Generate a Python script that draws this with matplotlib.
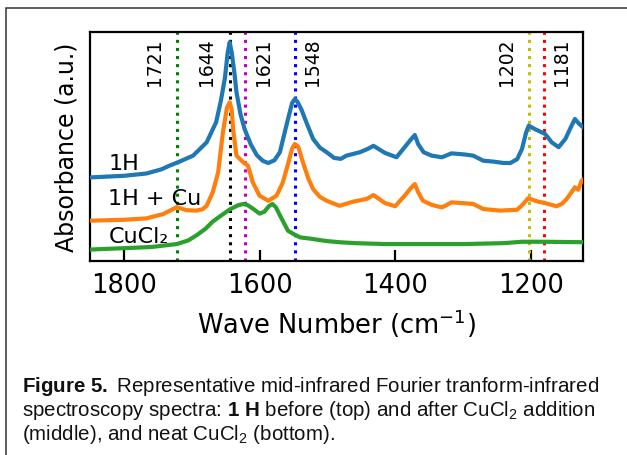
import matplotlib
matplotlib.use("Agg")
import matplotlib.pyplot as plt
from matplotlib.patches import Rectangle

# ---- spectra (wavenumber in cm^-1, absorbance in a.u., offset for display) ----
wn_1h = [1850, 1800, 1767, 1745, 1733, 1718, 1698, 1678, 1664, 1657, 1651, 1647,
         1644, 1641, 1637, 1634, 1628, 1622, 1613, 1604, 1595, 1587, 1578, 1570,
         1563, 1558, 1552, 1548, 1544, 1538, 1531, 1521, 1511, 1501, 1490, 1480,
         1472, 1452, 1440, 1432, 1415, 1398, 1386, 1377, 1371, 1366, 1358, 1346,
         1331, 1317, 1297, 1285, 1270, 1255, 1240, 1230, 1220, 1213, 1207, 1203,
         1194, 1179, 1169, 1159, 1149, 1140, 1135, 1129, 1123]
ab_1h = [0.365, 0.372, 0.382, 0.400, 0.416, 0.434, 0.460, 0.518, 0.606, 0.700,
         0.800, 0.910, 0.955, 0.910, 0.820, 0.737, 0.640, 0.576, 0.510, 0.462,
         0.437, 0.428, 0.440, 0.475, 0.560, 0.620, 0.690, 0.707, 0.695, 0.660,
         0.606, 0.533, 0.495, 0.475, 0.450, 0.446, 0.460, 0.475, 0.490, 0.503,
         0.472, 0.453, 0.497, 0.530, 0.550, 0.510, 0.475, 0.460, 0.453, 0.470,
         0.465, 0.460, 0.438, 0.434, 0.428, 0.428, 0.445, 0.489, 0.560, 0.591,
         0.576, 0.555, 0.518, 0.497, 0.533, 0.590, 0.620, 0.600, 0.584]

wn_1h_cu = [1850, 1800, 1767, 1742, 1722, 1708, 1693, 1684, 1678, 1669, 1661,
            1654, 1648, 1644, 1641, 1639, 1634, 1624, 1617, 1610, 1600, 1587,
            1575, 1566, 1560, 1552, 1548, 1543, 1536, 1528, 1521, 1511, 1501,
            1490, 1482, 1462, 1442, 1432, 1415, 1400, 1386, 1377, 1371, 1366,
            1359, 1346, 1331, 1317, 1297, 1285, 1270, 1245, 1220, 1211, 1204,
            1189, 1179, 1162, 1154, 1147, 1140, 1135, 1130, 1125, 1123]
ab_1h_cu = [0.176, 0.180, 0.186, 0.205, 0.235, 0.222, 0.220, 0.226, 0.241, 0.300,
            0.387, 0.562, 0.670, 0.693, 0.660, 0.576, 0.460, 0.431, 0.416, 0.344,
            0.285, 0.263, 0.285, 0.340, 0.402, 0.490, 0.511, 0.500, 0.431, 0.360,
            0.314, 0.280, 0.263, 0.250, 0.241, 0.259, 0.271, 0.288, 0.253, 0.239,
            0.285, 0.318, 0.336, 0.300, 0.263, 0.245, 0.234, 0.256, 0.252, 0.249,
            0.227, 0.220, 0.224, 0.249, 0.274, 0.259, 0.253, 0.239, 0.250, 0.271,
            0.300, 0.322, 0.311, 0.351, 0.355]

wn_cucl2 = [1850, 1800, 1760, 1722, 1705, 1693, 1680, 1669, 1656, 1644, 1632,
            1624, 1617, 1609, 1600, 1593, 1586, 1581, 1576, 1570, 1563, 1558,
            1550, 1540, 1526, 1501, 1482, 1459, 1415, 1297, 1240, 1213, 1180,
            1123]
ab_cucl2 = [0.050, 0.056, 0.061, 0.074, 0.090, 0.112, 0.140, 0.172, 0.200, 0.225,
            0.243, 0.249, 0.243, 0.227, 0.207, 0.215, 0.240, 0.249, 0.235, 0.200,
            0.160, 0.132, 0.118, 0.103, 0.098, 0.087, 0.082, 0.078, 0.074, 0.074,
            0.078, 0.084, 0.084, 0.082]

# ---- marked band positions ----
band_wn = [1721, 1644, 1621, 1548, 1202, 1181]
band_colors = ["g", "k", "m", "b", "y", "r"]
band_side = [-1, -1, 1, 1, -1, 1]   # label on left (-1) or right (+1) of line

series_names = ["1H", "1H + Cu", "CuCl\u2082"]
series_colors = ["#1f77b4", "#ff7f0e", "#2ca02c"]
name_y = [0.402, 0.249, 0.083]

xticks = [1800, 1600, 1400, 1200]

plt.rcParams["mathtext.fontset"] = "custom"
plt.rcParams["mathtext.rm"] = "Liberation Sans"
plt.rcParams["mathtext.it"] = "Liberation Sans:italic"
plt.rcParams["mathtext.bf"] = "Liberation Sans:bold"

W, H = 627, 456
fig = plt.figure(figsize=(W / 100, H / 100), dpi=100)
fig.patch.set_facecolor("white")

# outer frame (open to the right and bottom)
fig.patches.append(Rectangle((6 / W, -0.1), 1.2, (H - 8.5) / H + 0.1,
                             transform=fig.transFigure, fill=False,
                             edgecolor="#333333", linewidth=1.1))

ax = fig.add_axes([90 / W, 1 - 262 / H, (583 - 90) / W, (262 - 33) / H])

for wn, ab, c in zip([wn_1h, wn_1h_cu, wn_cucl2], [ab_1h, ab_1h_cu, ab_cucl2],
                     series_colors):
    ax.plot(wn, ab, color=c, linewidth=3.0, solid_joinstyle="round", zorder=3)

for wn, c, side in zip(band_wn, band_colors, band_side):
    ax.axvline(wn, color=c, linestyle=":", linewidth=2.2, zorder=2)
    ax.annotate(str(wn), xy=(wn, 0.975), xycoords=("data", "axes fraction"),
                xytext=(side * 18 - (5 if side < 0 else 0), 0),
                textcoords="offset pixels", rotation=90, ha="center", va="top",
                fontsize=13.5, color="black")

for name, y in zip(series_names, name_y):
    ax.text(1823, y, name, fontsize=16, ha="left", va="baseline", zorder=4)

ax.set_xlim(1850, 1123)
ax.set_ylim(0, 1)
ax.set_xticks(xticks)
ax.set_yticks([])
ax.tick_params(axis="x", direction="in", length=8, width=1.6, labelsize=18.5, pad=8)
for s in ax.spines.values():
    s.set_linewidth(1.6)

ax.set_xlabel("Wave Number (cm$^{-1}$)", fontsize=18.5, labelpad=6,
              math_fontfamily="dejavusans")
ax.set_ylabel("Absorbance (a.u.)", fontsize=17)
ax.yaxis.set_label_coords(-0.023, 0.5)

cap_kw = dict(fontsize=14.8, family="Liberation Sans", ha="left", va="baseline",
              color="#111111")
fig.text(22 / W, 1 - 392 / H,
         r"$\mathbf{Figure\ 5.}$ Representative mid-infrared Fourier tranform-infrared",
         **cap_kw)
fig.text(22 / W, 1 - 416 / H,
         r"spectroscopy spectra: $\mathbf{1\ H}$ before (top) and after CuCl$_2$ addition",
         **cap_kw)
fig.text(22 / W, 1 - 440 / H, r"(middle), and neat CuCl$_2$ (bottom).", **cap_kw)

fig.savefig("out.png", dpi=100, facecolor="white")
